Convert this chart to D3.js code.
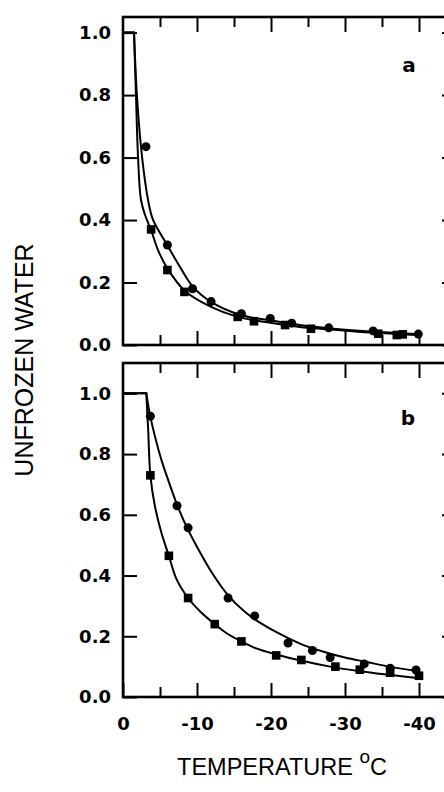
<!DOCTYPE html>
<html>
<head>
<meta charset="utf-8" />
<script src="https://d3js.org/d3.v7.min.js"></script>
<style>
  body { margin: 0; background: #fff; }
  .tick line { stroke: #000; stroke-width: 2px; }
  .tick text { font-family: "DejaVu Sans", sans-serif; font-weight: bold; font-size: 18px; fill: #000; }
  .domain { display: none; }
  .fit { fill: none; stroke: #000; stroke-width: 2px; }
</style>
</head>
<body>
<svg width="444" height="792"></svg>
<script>

// tick values
var xMajor = [0, -10, -20, -30, -40];
var xMinor = [-5, -15, -25, -35];
var yTicks = [0, 0.2, 0.4, 0.6, 0.8, 1.0];

// panel a : fitted curves [temperature, unfrozen water]
var aCurveCircles = [[0, 1.0], [-1.49, 1.0], [-1.89, 0.795], [-2.57, 0.603], [-3.38, 0.465], [-4.05, 0.401],
  [-5.95, 0.321], [-7.7, 0.25], [-9.46, 0.186], [-11.9, 0.138], [-15.9, 0.096], [-19.9, 0.079],
  [-23.9, 0.064], [-28.0, 0.053], [-33.4, 0.043], [-39.9, 0.035]];
var aCurveSquares = [[0, 1.0], [-1.49, 1.0], [-1.76, 0.795], [-2.03, 0.603], [-2.43, 0.465], [-2.97, 0.417],
  [-3.78, 0.369], [-4.73, 0.304], [-5.95, 0.247], [-8.38, 0.173], [-11.9, 0.122], [-15.5, 0.090],
  [-19.9, 0.071], [-23.9, 0.058], [-28.0, 0.050], [-33.4, 0.040], [-39.9, 0.032]];
// panel a : measured points
var aCircles = [[-3.1, 0.635], [-6.0, 0.32], [-9.4, 0.18], [-11.9, 0.139], [-16.0, 0.10], [-19.9, 0.085],
  [-22.8, 0.07], [-27.8, 0.055], [-33.8, 0.045], [-39.9, 0.035]];
var aSquares = [[-3.8, 0.37], [-6.0, 0.24], [-8.3, 0.17], [-15.5, 0.09], [-17.7, 0.076], [-21.9, 0.064],
  [-25.4, 0.052], [-34.5, 0.036], [-37.0, 0.032], [-37.8, 0.034]];

// panel b : fitted curves
var bCurveCircles = [[0, 1.0], [-3.15, 1.0], [-3.6, 0.935], [-4.3, 0.86], [-5.2, 0.78], [-6.1, 0.715],
  [-7.2, 0.64], [-8.5, 0.565], [-10.1, 0.49], [-12.0, 0.41], [-14.2, 0.335], [-16.5, 0.28],
  [-18.5, 0.245], [-21, 0.21], [-24, 0.175], [-27, 0.15], [-30, 0.13], [-33, 0.115], [-36, 0.1], [-40, 0.085]];
var bCurveSquares = [[0, 1.0], [-3.15, 1.0], [-3.4, 0.88], [-3.7, 0.73], [-4.3, 0.63], [-5.2, 0.54],
  [-6.2, 0.465], [-7.2, 0.39], [-8.8, 0.326], [-10.5, 0.28], [-12.4, 0.24], [-14, 0.21], [-16, 0.183],
  [-18, 0.16], [-20.7, 0.14], [-24, 0.12], [-28, 0.1], [-32, 0.085], [-36, 0.073], [-40, 0.062]];
// panel b : measured points
var bCircles = [[-3.7, 0.925], [-7.3, 0.63], [-8.8, 0.557], [-14.2, 0.326], [-17.8, 0.267], [-22.3, 0.178],
  [-25.6, 0.153], [-28.0, 0.13], [-32.6, 0.109], [-36.1, 0.095], [-39.6, 0.089]];
var bSquares = [[-3.7, 0.73], [-6.2, 0.465], [-8.8, 0.326], [-12.4, 0.24], [-16.0, 0.183], [-20.7, 0.137],
  [-24.1, 0.122], [-28.7, 0.10], [-32, 0.09], [-36.1, 0.08], [-40, 0.07]];

var svg = d3.select("svg");
svg.append("rect").attr("width", "100%").attr("height", "100%").attr("fill", "#fff");

var x = d3.scaleLinear().domain([0, -45]).range([123, 456]);

function drawPanel(top, bottom, ymax, curves, circles, squares, label, lx, ly, showX) {
  var y = d3.scaleLinear().domain([0, ymax]).range([bottom, top]);
  var g = svg.append("g");

  // ticks
  g.append("g").attr("transform", "translate(0," + top + ")")
    .call(d3.axisTop(x).tickValues(xMajor.slice(1)).tickSize(-15).tickFormat(""));
  g.append("g").attr("transform", "translate(0," + top + ")")
    .call(d3.axisTop(x).tickValues(xMinor).tickSize(-10).tickFormat(""));
  g.append("g").attr("transform", "translate(0," + bottom + ")")
    .call(d3.axisBottom(x).tickValues(showX ? xMajor : xMajor.slice(1)).tickSize(-14).tickPadding(20)
      .tickFormat(function(d) { return showX ? String(d) : ""; }));
  g.append("g").attr("transform", "translate(0," + bottom + ")")
    .call(d3.axisBottom(x).tickValues(xMinor).tickSize(-10).tickFormat(""));
  g.append("g").attr("transform", "translate(" + x(0) + ",0)")
    .call(d3.axisLeft(y).tickValues(yTicks).tickSize(-14).tickPadding(12).tickFormat(d3.format(".1f")));
  g.append("g").attr("transform", "translate(" + x(-45) + ",0)")
    .call(d3.axisRight(y).tickValues(yTicks).tickSize(-14).tickFormat(""));

  // frame
  g.append("rect")
    .attr("x", x(0)).attr("y", top)
    .attr("width", x(-45) - x(0)).attr("height", bottom - top)
    .attr("fill", "none").attr("stroke", "#000").attr("stroke-width", 2.6);

  // fitted curves: flat plateau then smooth drop
  var line = d3.line()
    .x(function(d) { return x(d[0]); })
    .y(function(d) { return y(d[1]); })
    .curve(d3.curveCatmullRom.alpha(0.5));
  curves.forEach(function(c) {
    g.append("path").attr("class", "fit")
      .attr("d", "M" + x(c[0][0]) + "," + y(c[0][1]) + "L" + line(c.slice(1)).slice(1));
  });

  g.selectAll(".dot").data(circles).enter().append("circle")
    .attr("cx", function(d) { return x(d[0]); })
    .attr("cy", function(d) { return y(d[1]); })
    .attr("r", 4.5).attr("fill", "#000");

  g.selectAll(".sq").data(squares).enter().append("rect")
    .attr("x", function(d) { return x(d[0]) - 4.3; })
    .attr("y", function(d) { return y(d[1]) - 4.3; })
    .attr("width", 8.6).attr("height", 8.6).attr("fill", "#000");

  g.append("text")
    .attr("x", lx).attr("y", ly)
    .attr("text-anchor", "middle")
    .style("font", "bold 20px 'DejaVu Sans', sans-serif")
    .text(label);
}

drawPanel(17, 345, 1.05, [aCurveCircles, aCurveSquares], aCircles, aSquares, "a", 409, 72, false);
drawPanel(363, 697, 1.1, [bCurveCircles, bCurveSquares], bCircles, bSquares, "b", 408, 425, true);

// axis titles
svg.append("text")
  .attr("transform", "translate(33,360) rotate(-90)")
  .attr("text-anchor", "middle")
  .style("font", "25px 'Liberation Sans', Arial, sans-serif")
  .text("UNFROZEN WATER");

var xt = svg.append("text")
  .attr("x", 282).attr("y", 775)
  .attr("text-anchor", "middle")
  .style("font", "23.5px 'Liberation Sans', Arial, sans-serif");
xt.append("tspan").text("TEMPERATURE ");
xt.append("tspan").attr("dy", -12).style("font-size", "19px").text("o");
xt.append("tspan").attr("dy", 12).text("C");

</script>
</body>
</html>
